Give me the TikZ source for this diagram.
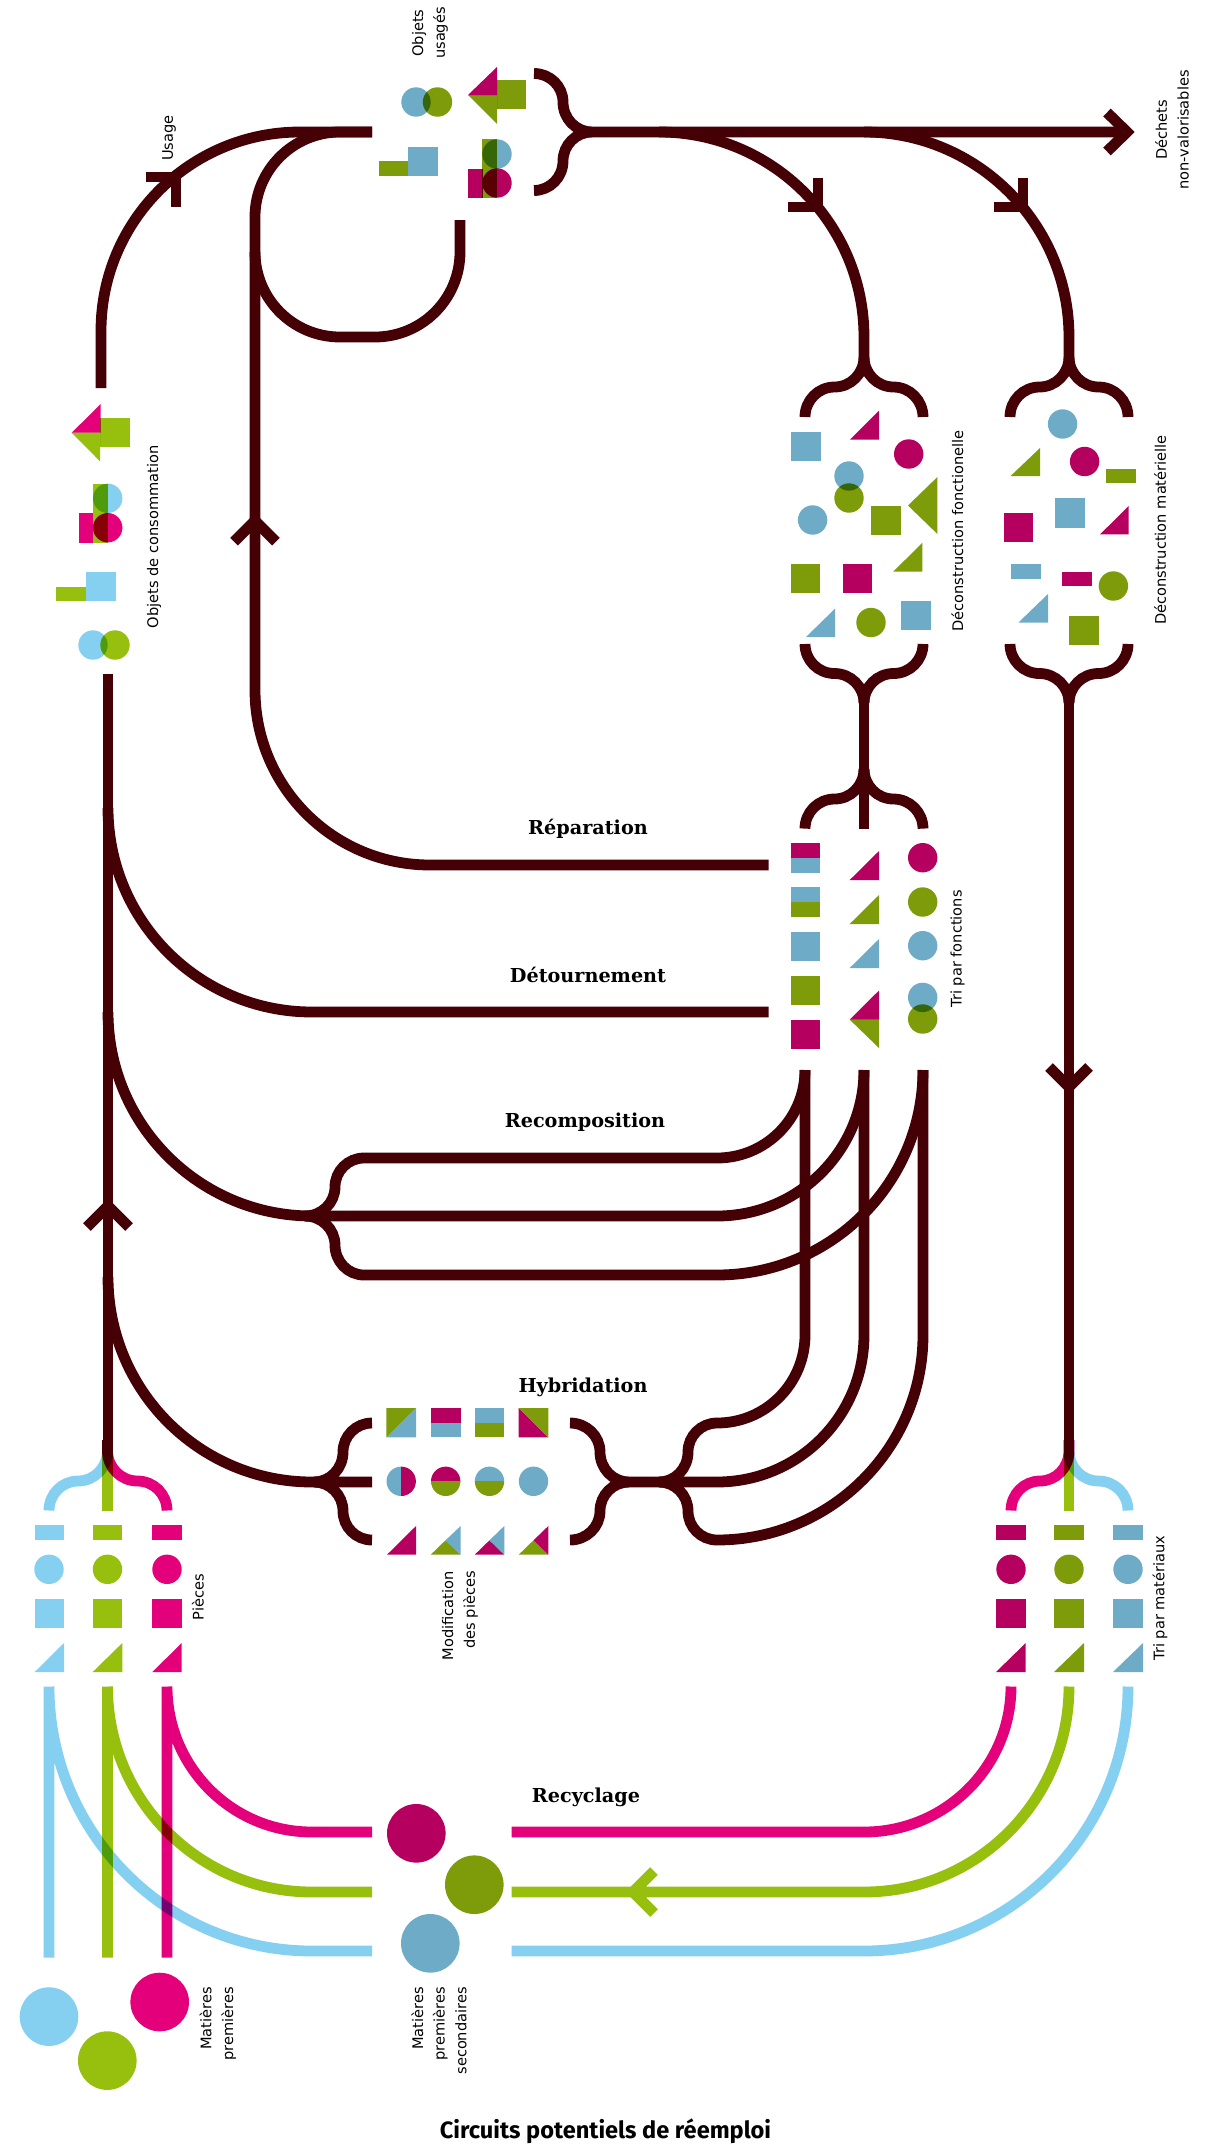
\documentclass[tikz,border=0pt]{standalone}
\usepackage{fontspec}
\setmainfont{DejaVu Sans}
\newfontfamily\headf{DejaVu Serif}
\newfontfamily\titlef{Fira Sans}
\definecolor{lp}{HTML}{E3007A}\definecolor{lg}{HTML}{97BF0D}\definecolor{lb}{HTML}{85D0F0}
\definecolor{dp}{HTML}{B60060}\definecolor{dg}{HTML}{7E9B0A}\definecolor{db}{HTML}{6DABC6}
\definecolor{ink}{HTML}{450006}
\newcommand\HV[4]{.. controls ({#1+.5523*(#3-#1)},{#2}) and ({#3},{#4-.5523*(#4-#2)}) .. ({#3},{#4})}
\newcommand\VH[4]{.. controls ({#1},{#2+.5523*(#4-#2)}) and ({#3-.5523*(#3-#1)},{#4}) .. ({#3},{#4})}
\newcommand\Sq[5]{\fill[#5] (#1,#2) rectangle (#3,#4);}
\newcommand\Tr[5]{\fill[#5] (#1,#2) -- (#1,#3) -- (#4,#3) -- cycle;}
\newcommand\Ci[3]{\fill[#3] (#1,#2) circle[radius=14.7];}
\tikzset{
  flow/.style={line width=10.8pt,color=ink,line cap=butt,line join=miter,miter limit=10},
  cflow/.style={line width=10.8pt,color=#1,line cap=butt,line join=miter,miter limit=10},
  lab/.style={font=\fontsize{14.6}{21.7}\selectfont,text=black,rotate=90,inner sep=0pt},
  head/.style={font=\headf\bfseries\fontsize{19.2}{20}\selectfont,text=black,inner sep=0pt},
}
\begin{document}
\begin{tikzpicture}[x=1pt,y=-1pt]
\useasboundingbox (0,0) rectangle (1217,2144);
\fill[white] (0,0) rectangle (1217,2144);
\begin{scope}[blend mode=multiply]
% recycling
\draw[cflow=lb] (49,1957.7) -- (49,1686.5) (49,1686.5) \VH{49}{1686.5}{312}{1951} -- (372,1951)
  (511.7,1951) -- (864,1951) \HV{864}{1951}{1128}{1686.5};
\draw[cflow=lg] (107.5,1957.7) -- (107.5,1686.5) (107.5,1686.5) \VH{107.5}{1686.5}{312}{1892} -- (372,1892)
  (511.7,1892) -- (864,1892) \HV{864}{1892}{1069}{1686.5}
  (654,1871) -- (633,1892) -- (654,1913);
\draw[cflow=lp] (167,1957.7) -- (167,1686.5) (167,1686.5) \VH{167}{1686.5}{312}{1832} -- (372,1832)
  (511.7,1832) -- (864,1832) \HV{864}{1832}{1011}{1686.5};
% piece braces
\draw[cflow=lg] (107.5,1510.5) -- (107.5,1440);
\draw[cflow=lb] (49,1510.5) \VH{49}{1510.5}{78}{1481} \HV{78}{1481}{107.5}{1451} -- (107.5,1440);
\draw[cflow=lp] (167,1510.5) \VH{167}{1510.5}{137.5}{1481} \HV{137.5}{1481}{107.5}{1451} -- (107.5,1440);
\draw[cflow=lg] (1069,1510.5) -- (1069,1440);
\draw[cflow=lp] (1011,1510.5) \VH{1011}{1510.5}{1040}{1481} \HV{1040}{1481}{1069}{1451} -- (1069,1440);
\draw[cflow=lb] (1128,1510.5) \VH{1128}{1510.5}{1098.5}{1481} \HV{1098.5}{1481}{1069}{1451} -- (1069,1440);
% pieces
\foreach \xa/\xb/\xl/\c in {34.7/64/49/lb,92.7/122.3/107.5/lg,152.3/181.7/167/lp,996/1025.7/1011/dp,1054/1084/1069/dg,1113/1143/1128/db}{
  \Sq{\xa}{1525}{\xb}{1540}{\c}
  \Ci{\xl}{1569.3}{\c}
  \Sq{\xa}{1598.5}{\xb}{1628}{\c}
  \Tr{\xb}{1643}{1672}{\xa}{\c}
}
% recycled / raw circles
\fill[dp] (416.3,1833.3) circle[radius=29.3];
\fill[dg] (474.3,1884.7) circle[radius=29.3];
\fill[db] (430.3,1943.3) circle[radius=29.3];
\fill[lp] (159.7,2002) circle[radius=29.3];
\fill[lb] (49,2016.6) circle[radius=29.3];
\fill[lg] (107.3,2060.6) circle[radius=29.3];
% objets de consommation
\Sq{100}{417.7}{129.7}{447}{lg}
\fill[lg] (71.7,432.7) -- (100,432.7) -- (100,461.3) -- cycle;
\Tr{100.7}{404}{432.7}{71.7}{lp}
\Sq{92.7}{484}{107.7}{542.7}{lg}
\Sq{78.7}{513.3}{93.3}{542.7}{lp}
\Ci{107.7}{498.3}{lb}
\Ci{107.7}{527.7}{lp}
\Sq{56}{586.7}{86}{601}{lg}
\Sq{86}{572}{115.7}{601}{lb}
\Ci{93}{645}{lb}
\Ci{115}{645}{lg}
% objets usages
\Ci{416}{102}{db}
\Ci{437.5}{102}{dg}
\Sq{497}{80}{526}{109}{dg}
\fill[dg] (468,95) -- (497,95) -- (497,124) -- cycle;
\Tr{497}{67}{95}{468}{dp}
\Sq{379}{161}{408}{175.5}{dg}
\Sq{408}{146.5}{438}{175.5}{db}
\Sq{482}{139}{497}{198}{dg}
\Sq{468}{169}{482.5}{198}{dp}
\Ci{497}{154}{db}
\Ci{497}{183}{dp}
% deconstruction fonctionelle
\Sq{790.5}{432}{820.5}{461}{db}
\Tr{879}{410.5}{439.5}{850}{dp}
\Ci{908.7}{454}{dp}
\Ci{849}{476}{db}
\Ci{849}{498}{dg}
\Ci{812.6}{520}{db}
\Sq{871}{505.5}{901}{534.5}{dg}
\fill[dg] (937.4,477) -- (908,505.5) -- (937.4,534) -- cycle;
\Tr{922.4}{542.7}{571.6}{893.3}{dg}
\Sq{790.5}{564}{820}{593}{dg}
\Sq{842.5}{564}{871.7}{593}{dp}
\Tr{835}{608.7}{637}{806}{db}
\Ci{871}{622.5}{dg}
\Sq{900.8}{601}{930.7}{630}{db}
% deconstruction materielle
\Ci{1062.6}{424}{db}
\Tr{1040}{448}{476}{1010.6}{dg}
\Ci{1084.6}{461.5}{dp}
\Sq{1106}{469}{1136}{483}{dg}
\Sq{1003.5}{513}{1033}{542}{dp}
\Sq{1054.7}{498}{1084.6}{527.5}{db}
\Tr{1128.7}{506}{534.4}{1100}{dp}
\Sq{1010.6}{564}{1040.5}{579}{db}
\Sq{1062}{571.6}{1092}{586}{dp}
\Ci{1113.4}{586}{dg}
\Tr{1048}{594}{622.5}{1018.5}{db}
\Sq{1069}{615.6}{1099}{644.5}{dg}
% tri par fonctions
\Sq{790.7}{843}{820.3}{858}{dp}
\Sq{790.7}{858}{820.3}{872.6}{db}
\Sq{790.7}{887}{820.3}{902}{db}
\Sq{790.7}{902}{820.3}{916.6}{dg}
\Sq{790.7}{931.5}{820.3}{960.6}{db}
\Sq{790.7}{975.5}{820.3}{1004.6}{dg}
\Sq{790.7}{1019.6}{820.3}{1048.6}{dp}
\Tr{879}{851}{880}{849.7}{dp}
\Tr{879}{895}{924}{849.7}{dg}
\Tr{879}{939}{968}{849.7}{db}
\Tr{879}{990.5}{1019.6}{849.7}{dp}
\fill[dg] (849.7,1019.6) -- (879,1019.6) -- (879,1048) -- cycle;
\Ci{922.7}{857.7}{dp}
\Ci{922.7}{902}{dg}
\Ci{922.7}{945.7}{db}
\Ci{922.7}{997.4}{db}
\Ci{922.7}{1019}{dg}
\end{scope}
% modification des pieces (no overlaps)
\fill[db] (386.3,1437.3) -- (416,1437.3) -- (416,1408) -- cycle;
\fill[dg] (386.3,1437.3) -- (386.3,1408) -- (416,1408) -- cycle;
\Sq{430.7}{1408}{460.7}{1423}{dp}
\Sq{430.7}{1423}{460.7}{1437.3}{db}
\Sq{474.7}{1408}{504.3}{1423}{db}
\Sq{474.7}{1423}{504.3}{1437.3}{dg}
\fill[dp] (518.7,1408) -- (548.3,1437.3) -- (518.7,1437.3) -- cycle;
\fill[dg] (518.7,1408) -- (548.3,1408) -- (548.3,1437.3) -- cycle;
\begin{scope}\clip (386,1460) rectangle (401.2,1500);\Ci{401.2}{1481.3}{db}\end{scope}
\begin{scope}\clip (401.2,1460) rectangle (420,1500);\Ci{401.2}{1481.3}{dp}\end{scope}
\begin{scope}\clip (430,1460) rectangle (465,1481.3);\Ci{445.7}{1481.3}{dp}\end{scope}
\begin{scope}\clip (430,1481.3) rectangle (465,1500);\Ci{445.7}{1481.3}{dg}\end{scope}
\begin{scope}\clip (474,1460) rectangle (510,1481.3);\Ci{489.5}{1481.3}{db}\end{scope}
\begin{scope}\clip (474,1481.3) rectangle (510,1500);\Ci{489.5}{1481.3}{dg}\end{scope}
\Ci{533.5}{1481.3}{db}
\Tr{416}{1526}{1554.7}{387}{dp}
\fill[dg] (430.7,1554.7) -- (445.5,1540.3) -- (460.7,1554.7) -- cycle;
\fill[db] (445.5,1540.3) -- (460.7,1526) -- (460.7,1554.7) -- cycle;
\fill[dp] (474.7,1554.7) -- (489.5,1540.3) -- (504.3,1554.7) -- cycle;
\fill[db] (489.5,1540.3) -- (504.3,1526) -- (504.3,1554.7) -- cycle;
\fill[dg] (518.7,1554.7) -- (533.5,1540.3) -- (548.3,1554.7) -- cycle;
\fill[dp] (533.5,1540.3) -- (548.3,1526) -- (548.3,1554.7) -- cycle;
% dark circuit
\draw[flow] (101,388) -- (101,331) \VH{101}{331}{300}{132} -- (372,132);
\draw[flow] (146,177) -- (176,177) -- (176,207);
\draw[flow] (768.7,865) -- (430,865) \HV{430}{865}{255}{690} -- (255,217) \VH{255}{217}{340}{132} -- (372,132);
\draw[flow] (255,252) \VH{255}{252}{340}{337} -- (375,337) \HV{375}{337}{460}{252} -- (460,220);
\draw[flow] (234,541.7) -- (255,520.7) -- (276,541.7);
\draw[flow] (108,674) -- (108,1457);
\draw[flow] (87,1227) -- (108,1206) -- (129,1227);
\draw[flow] (768.7,1012) -- (312,1012) \HV{312}{1012}{108}{808};
\draw[flow] (108,1012) \VH{108}{1012}{312}{1216} -- (717,1216) \HV{717}{1216}{864}{1070};
\draw[flow] (305,1216) \HV{305}{1216}{335}{1187} \VH{335}{1187}{364}{1158} -- (717,1158) \HV{717}{1158}{805}{1070};
\draw[flow] (305,1216) \HV{305}{1216}{335}{1245} \VH{335}{1245}{364}{1275} -- (717,1275) \HV{717}{1275}{923}{1070};
\draw[flow] (108,1277) \VH{108}{1277}{312}{1482} -- (372,1482);
\draw[flow] (372,1423) \HV{372}{1423}{343}{1452} \VH{343}{1452}{314}{1482};
\draw[flow] (372,1540) \HV{372}{1540}{343}{1511} \VH{343}{1511}{314}{1482};
\draw[flow] (570,1423) \HV{570}{1423}{600}{1452} \VH{600}{1452}{629}{1482} -- (717,1482) \HV{717}{1482}{864}{1335} -- (864,1070);
\draw[flow] (570,1540) \HV{570}{1540}{600}{1511} \VH{600}{1511}{629}{1482};
\draw[flow] (805,1070) -- (805,1335) \VH{805}{1335}{717}{1423} \HV{717}{1423}{688}{1452} \VH{688}{1452}{659}{1482};
\draw[flow] (923,1070) -- (923,1335) \VH{923}{1335}{717}{1540} \HV{717}{1540}{688}{1511} \VH{688}{1511}{659}{1482};
% top
\draw[flow] (534,73.5) \HV{534}{73.5}{563}{102} \VH{563}{102}{592}{132} -- (1127,132);
\draw[flow] (534,190.5) \HV{534}{190.5}{563}{161} \VH{563}{161}{592}{132};
\draw[flow] (1107,112.5) -- (1127,132) -- (1107,151.5);
\draw[flow] (659,132) \HV{659}{132}{864}{337} -- (864,357);
\draw[flow] (864,132) \HV{864}{132}{1069}{337} -- (1069,357);
\draw[flow] (788,207) -- (818,207) -- (818,178);
\draw[flow] (994,207) -- (1023,207) -- (1023,178);
\foreach \m in {864,1069}{
  \pgfmathsetmacro\lx{\m-59}\pgfmathsetmacro\rx{\m+59}
  \pgfmathsetmacro\lh{\m-29.5}\pgfmathsetmacro\rh{\m+29.5}
  \draw[flow] (\m,357) \VH{\m}{357}{\lh}{387} \HV{\lh}{387}{\lx}{417};
  \draw[flow] (\m,357) \VH{\m}{357}{\rh}{387} \HV{\rh}{387}{\rx}{417};
  \draw[flow] (\lx,644) \VH{\lx}{644}{\lh}{673.5} \HV{\lh}{673.5}{\m}{703};
  \draw[flow] (\rx,644) \VH{\rx}{644}{\rh}{673.5} \HV{\rh}{673.5}{\m}{703};
}
\draw[flow] (864,703) -- (864,828.6);
\draw[flow] (864,769) \VH{864}{769}{834.5}{799} \HV{834.5}{799}{805}{828.6};
\draw[flow] (864,769) \VH{864}{769}{893.5}{799} \HV{893.5}{799}{923}{828.6};
\draw[flow] (1069,703) -- (1069,1457);
\draw[flow] (1049,1067) -- (1069,1087) -- (1089,1067);
% labels
\node[lab,align=center] (lobjus) at (430,33) {Objets\\usagés};
\node[lab] (lusage) at (169,138) {Usage};
\node[lab] (lconso) at (154,537) {Objets de consommation};
\node[lab,align=center] (ldechets) at (1172,130) {Déchets\\non-valorisables};
\node[lab] (ldf) at (957.5,531) {Déconstruction fonctionelle};
\node[lab] (ldm) at (1160,530) {Déconstruction matérielle};
\node[lab] (ltf) at (957.7,949) {Tri par fonctions};
\node[lab] (ltm) at (1160,1598) {Tri par matériaux};
\node[lab] (lpieces) at (198,1597) {Pièces};
\node[lab,align=right,anchor=east] (lmod) at (460,1571) {Modification\\des pièces};
\node[lab,align=right,anchor=east] (lmp) at (218,1987) {Matières\\premières};
\node[lab,align=right,anchor=east] (lmps) at (439,1987) {Matières\\premières\\secondaires};
\node[head] (hrep) at (588,828.5) {Réparation};
\node[head] (hdet) at (588,974.5) {Détournement};
\node[head] (hrec) at (585,1122.5) {Recomposition};
\node[head] (hhyb) at (583,1387) {Hybridation};
\node[head] (hrcy) at (586,1797) {Recyclage};
\node[font=\titlef\bfseries\fontsize{23.6}{26}\selectfont,inner sep=0pt] (title) at (605.5,2131) {Circuits potentiels de réemploi};
\end{tikzpicture}
\end{document}
